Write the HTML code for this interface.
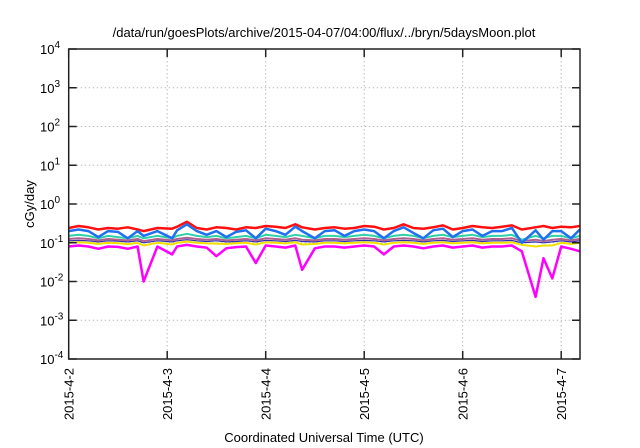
<!DOCTYPE html>
<html><head><meta charset="utf-8">
<style>
html,body{margin:0;padding:0;background:#fff;}
svg{display:block;font-family:"Liberation Sans",sans-serif;}
</style></head>
<body>
<svg id="chart" width="640" height="448" viewBox="0 0 640 448" xmlns="http://www.w3.org/2000/svg">
<text x="324" y="37" font-size="13" text-anchor="middle" fill="#000">/data/run/goesPlots/archive/2015-04-07/04:00/flux/../bryn/5daysMoon.plot</text>
<g id="grid"></g>
<g id="series"></g>
<rect x="68.7" y="49" width="511.3" height="310" fill="none" stroke="#222" stroke-width="1.5"/>
<g id="axes"></g>
<text transform="translate(34,204) rotate(-90)" font-size="13" text-anchor="middle">cGy/day</text>
<text x="324" y="442" font-size="13" text-anchor="middle">Coordinated Universal Time (UTC)</text>
</svg>
<script>
const dayLabels = ["2015-4-2","2015-4-3","2015-4-4","2015-4-5","2015-4-6","2015-4-7"];
const yExponents = [4,3,2,1,0,-1,-2,-3,-4];
const times = [0,0.1,0.2,0.3,0.4,0.5,0.6,0.7,0.76,0.9,1.05,1.1,1.2,1.3,1.4,1.5,1.6,1.7,1.8,1.9,2.0,2.1,2.2,2.3,2.37,2.5,2.6,2.7,2.8,2.9,3.0,3.1,3.2,3.3,3.4,3.5,3.6,3.7,3.8,3.9,4.0,4.1,4.2,4.3,4.4,4.5,4.6,4.74,4.82,4.91,5.0,5.1,5.19];
const red = [0.24,0.27,0.25,0.22,0.24,0.23,0.25,0.22,0.2,0.24,0.23,0.26,0.35,0.24,0.22,0.25,0.24,0.22,0.25,0.24,0.27,0.26,0.24,0.3,0.25,0.22,0.24,0.25,0.23,0.24,0.27,0.26,0.22,0.24,0.3,0.24,0.23,0.25,0.28,0.22,0.24,0.27,0.25,0.24,0.26,0.28,0.22,0.25,0.27,0.24,0.26,0.25,0.27];
const blue = [0.2,0.22,0.2,0.14,0.2,0.19,0.13,0.2,0.15,0.2,0.13,0.21,0.3,0.2,0.16,0.2,0.14,0.19,0.21,0.13,0.23,0.2,0.16,0.26,0.2,0.13,0.2,0.21,0.15,0.2,0.22,0.2,0.13,0.2,0.25,0.18,0.13,0.21,0.23,0.14,0.2,0.22,0.15,0.2,0.2,0.24,0.1,0.21,0.12,0.2,0.2,0.13,0.22];
const teal = [0.15,0.16,0.15,0.13,0.15,0.14,0.13,0.15,0.13,0.15,0.13,0.15,0.17,0.15,0.14,0.15,0.13,0.14,0.15,0.13,0.16,0.15,0.14,0.16,0.15,0.13,0.15,0.15,0.14,0.15,0.16,0.15,0.13,0.15,0.16,0.15,0.13,0.15,0.16,0.14,0.15,0.16,0.14,0.15,0.15,0.16,0.12,0.15,0.13,0.15,0.15,0.13,0.15];
const purple = [0.125,0.13,0.125,0.115,0.125,0.12,0.115,0.125,0.11,0.125,0.115,0.125,0.135,0.125,0.12,0.125,0.115,0.12,0.125,0.115,0.13,0.125,0.12,0.13,0.12,0.115,0.125,0.125,0.12,0.125,0.13,0.125,0.115,0.125,0.13,0.125,0.115,0.125,0.13,0.12,0.125,0.13,0.12,0.125,0.125,0.13,0.11,0.12,0.11,0.12,0.125,0.115,0.125];
const navy = [0.112,0.115,0.112,0.105,0.112,0.11,0.105,0.112,0.1,0.112,0.105,0.112,0.12,0.112,0.108,0.112,0.105,0.108,0.112,0.105,0.115,0.112,0.108,0.115,0.108,0.105,0.112,0.112,0.108,0.112,0.115,0.112,0.105,0.112,0.115,0.112,0.105,0.112,0.115,0.108,0.112,0.115,0.108,0.112,0.112,0.115,0.1,0.105,0.1,0.105,0.112,0.105,0.112];
const yellow = [0.1,0.103,0.1,0.093,0.1,0.098,0.092,0.1,0.085,0.1,0.09,0.1,0.107,0.1,0.096,0.095,0.093,0.097,0.1,0.09,0.103,0.1,0.096,0.103,0.09,0.093,0.1,0.1,0.096,0.1,0.103,0.1,0.09,0.1,0.103,0.1,0.093,0.1,0.103,0.096,0.1,0.103,0.096,0.1,0.1,0.103,0.088,0.08,0.085,0.085,0.1,0.093,0.1];
const magenta = [0.08,0.085,0.08,0.07,0.08,0.078,0.07,0.08,0.01,0.08,0.05,0.08,0.088,0.08,0.075,0.045,0.072,0.077,0.08,0.03,0.085,0.08,0.075,0.085,0.02,0.072,0.08,0.08,0.075,0.08,0.085,0.08,0.05,0.08,0.085,0.08,0.072,0.08,0.085,0.075,0.08,0.085,0.075,0.08,0.08,0.085,0.06,0.004,0.04,0.012,0.08,0.07,0.06];

const L=68.7,R=580,T=49,B=359,DAY=98.5;
function xs(d){return L+d*DAY;}
function ys(v){return T+(4-Math.log10(v))*(B-T)/8;}
const NS="http://www.w3.org/2000/svg";
function mk(tag,attrs,parent){const e=document.createElementNS(NS,tag);for(const k in attrs)e.setAttribute(k,attrs[k]);parent.appendChild(e);return e;}
const grid=document.getElementById('grid'),axes=document.getElementById('axes'),ser=document.getElementById('series');

yExponents.forEach(function(p){
  const y=ys(Math.pow(10,p));
  if(p<4&&p>-4){const g=mk('line',{x1:L,x2:R,y1:y,y2:y,stroke:'#bbb','stroke-dasharray':'1.5,2.5','stroke-width':1},grid);
    
    }
  const t1=mk('line',{x1:L,x2:L+8,y1:y,y2:y,stroke:'#222','stroke-width':1.5},axes);
  
  
  const t2=mk('line',{x1:R-8,x2:R,y1:y,y2:y,stroke:'#222','stroke-width':1.5},axes);
  
  
  const tx=mk('text',{x:40,y:y+5,'font-size':13,'text-anchor':'start'},axes);
  
  
  tx.appendChild(document.createTextNode('10'));
  const sp=mk('tspan',{dy:-6,'font-size':10},tx);sp.textContent=String(p);
});

dayLabels.forEach(function(lbl,i){
  const x=xs(i);
  if(i>0){const g=mk('line',{x1:x,x2:x,y1:T,y2:B,stroke:'#bbb','stroke-dasharray':'1.5,2.5','stroke-width':1},grid);
    
    }
  const t1=mk('line',{x1:x,x2:x,y1:B-8,y2:B,stroke:'#222','stroke-width':1.5},axes);
  
  
  const t2=mk('line',{x1:x,x2:x,y1:T,y2:T+8,stroke:'#222','stroke-width':1.5},axes);
  
  
  const tx=mk('text',{transform:'translate('+(x+5)+','+(B+9)+') rotate(-90)','font-size':13,'text-anchor':'end'},axes);
  
  
  tx.textContent=lbl;
});

const seriesList=[[magenta,'#ff00ff','magenta-series',2.5],[yellow,'#f0e000','yellow-series',2],[navy,'#3030b0','navy-series',1.2],[purple,'#b06090','purple-series',2],[teal,'#30d0a8','teal-series',2],[red,'#ff1010','red-series',2.5],[blue,'#2070f0','blue-series',2.5]];
seriesList.forEach(function(s){
  const pts=times.map(function(t,i){return xs(t).toFixed(1)+','+ys(s[0][i]).toFixed(1);}).join(' ');
  const pl=mk('polyline',{points:pts,fill:'none',stroke:s[1],'stroke-width':s[3],'stroke-linejoin':'round'},ser);
  
  
});
</script>
</body></html>
